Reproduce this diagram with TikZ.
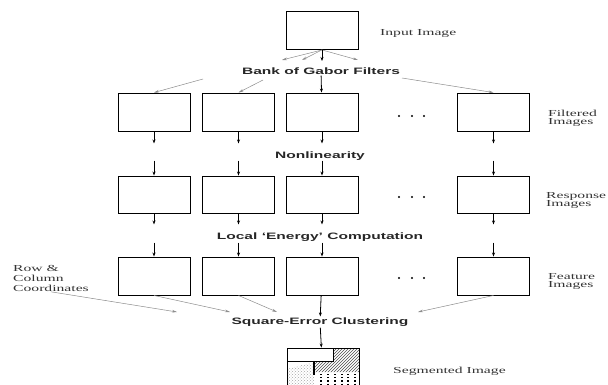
\documentclass[tikz,border=0pt]{standalone}
\usepackage{fontspec}
\setmainfont{Liberation Serif}[FakeStretch=1.7]
\newfontfamily\stagefont{Liberation Sans}[FakeStretch=1.67]
\usetikzlibrary{arrows.meta, patterns}

\begin{document}
\begin{tikzpicture}[
    x=1pt, y=-1pt,
    imgbox/.style={rectangle, draw=black, line width=0.9pt, minimum width=72pt, minimum height=38pt, inner sep=0pt},
    stage/.style={font=\stagefont\bfseries\fontsize{9.3}{10}\selectfont, text=black!85, inner sep=1pt},
    side/.style={font=\fontsize{9.2}{8}\selectfont, text=black!80, align=left, anchor=west, inner sep=0pt},
    arrow/.style={-{Stealth[length=4pt, width=3pt]}, line width=0.8pt, draw=black},
    fan/.style={-{Stealth[length=5pt, width=2.6pt]}, line width=0.5pt, draw=black!45}
]
    \useasboundingbox (0,0) rectangle (608,385);
    \clip (0,0) rectangle (608,385);

    \node[imgbox] (in) at (322,30.5) {};
    \node[side] (inlbl) at (380,33) {Input Image};
    \node[stage] (bank) at (321,71) {Bank of Gabor Filters};

    \node[imgbox] (f1) at (154,112) {};
    \node[imgbox] (f2) at (238.5,112) {};
    \node[imgbox] (f3) at (322,112) {};
    \node[imgbox] (f4) at (493.5,112) {};
    \node[side] (fltlbl) at (548,118) {Filtered\\Images};

    \node[stage] (nonlin) at (320,156) {Nonlinearity};

    \node[imgbox, minimum height=37pt] (r1) at (154,194.5) {};
    \node[imgbox, minimum height=37pt] (r2) at (238.5,194.5) {};
    \node[imgbox, minimum height=37pt] (r3) at (322,194.5) {};
    \node[imgbox, minimum height=37pt] (r4) at (493.5,194.5) {};
    \node[side] (rsplbl) at (546,200) {Response\\Images};

    \node[stage] (energy) at (320,237) {Local ‘Energy’ Computation};

    \node[imgbox] (e1) at (154,276) {};
    \node[imgbox] (e2) at (238.5,276) {};
    \node[imgbox] (e3) at (322,276) {};
    \node[imgbox] (e4) at (493.5,276) {};
    \node[side] (ftrlbl) at (548,281.5) {Feature\\Images};
    \node[side, font=\fontsize{9.2}{10}\selectfont] (rowcol) at (13,278.5) {Row \&\\Column\\Coordinates};

    \node[stage] (cluster) at (320,322) {Square-Error Clustering};

    % segmented result
    \fill[pattern=north east lines, pattern color=black!70] (333,348) -- (359,348) -- (359,372) -- (314,372) -- (314,361) -- (333,361) -- cycle;
    \fill[pattern=crosshatch dots, pattern color=black!35] (287,369) -- (314,362) -- (314,400) -- (287,400) -- cycle;
    \foreach \x in {321,328,335,342,348,355}
        \draw[line width=1.2pt, dash pattern=on 1.2pt off 2pt] (\x,374) -- (\x,392);
    \draw[line width=0.9pt] (287,361) -- (333,361) -- (333,348);
    \draw[line width=1.1pt] (314,361) -- (314,375);
    \node[imgbox, minimum height=60pt] (seg) at (323,378) {};
    \node[side] (seglbl) at (393,371) {Segmented Image};

    \foreach \y in {116,197,278}
        \foreach \x in {399,412,424}
            \fill (\x,\y) circle (1.1pt);

    \coordinate (fanA) at (282,60);
    \coordinate (fanB) at (302,60);
    \coordinate (fanC) at (358,60);
    \coordinate (fanD) at (322,61);
    \draw[fan] (in.south) -- (fanA);
    \draw[fan] (in.south) -- (fanB);
    \draw[fan] (in.south) -- (fanC);
    \draw[arrow] (in.south) -- (fanD);

    \coordinate (bk1) at (203,79);
    \coordinate (bk2) at (263,80);
    \coordinate (bk4) at (402,78);
    \draw[fan] (bk1) -- (f1.north);
    \draw[fan] (bk2) -- (f2.north);
    \draw[fan] (bk4) -- (f4.north);
    \draw[arrow] (bank) -- (f3);

    \foreach \c in {1,2,3,4} {
        \path (f\c.south) ++(0,12) coordinate (fo\c);
        \path (r\c.north) ++(0,-15) coordinate (ri\c);
        \path (r\c.south) ++(0,11) coordinate (ro\c);
        \path (e\c.north) ++(0,-14) coordinate (ei\c);
        \draw[arrow] (f\c) -- (fo\c);
        \draw[arrow] (ri\c) -- (r\c);
        \draw[arrow] (r\c) -- (ro\c);
        \draw[arrow] (ei\c) -- (e\c);
    }

    \coordinate (cl0) at (177,312);
    \coordinate (cl1) at (230,312);
    \coordinate (cl2) at (277,312);
    \coordinate (cl4) at (418,312);
    \draw[fan] (rowcol.south) -- (cl0);
    \draw[fan] (e1.south) -- (cl1);
    \draw[fan] (e2.south) -- (cl2);
    \draw[fan] (e4.south) -- (cl4);
    \draw[arrow] (e3) -- (cluster);
    \draw[arrow] (cluster) -- (seg);
\end{tikzpicture}
\end{document}
